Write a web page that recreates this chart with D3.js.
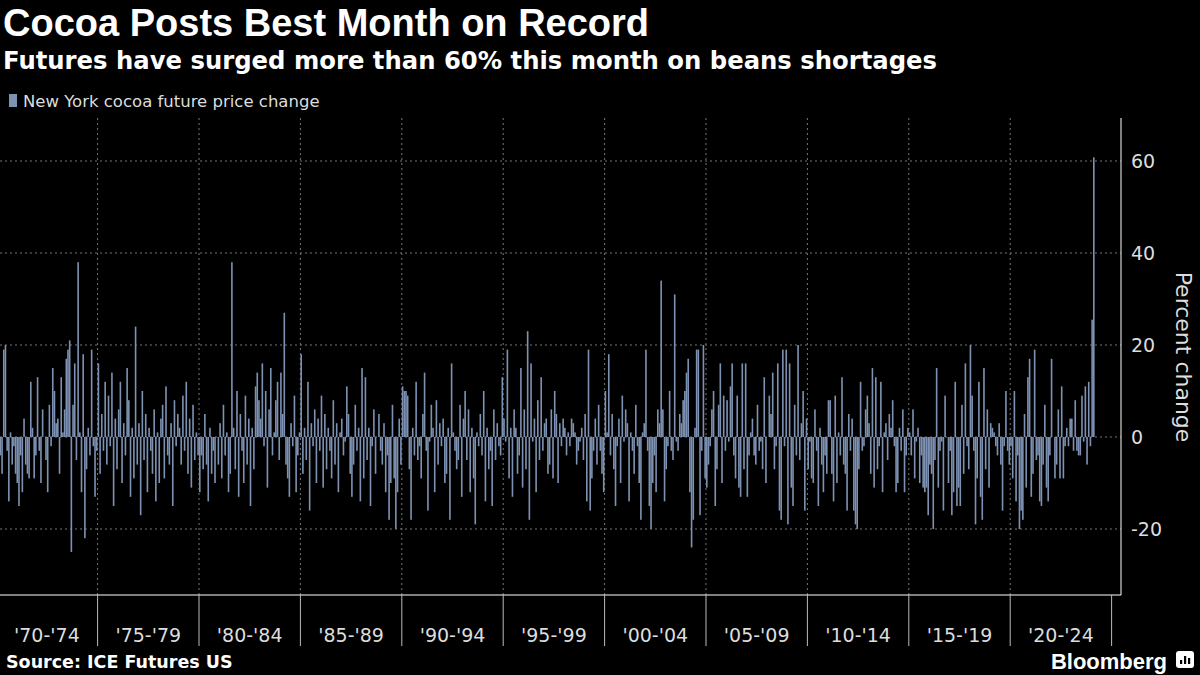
<!DOCTYPE html>
<html><head><meta charset="utf-8">
<script src="https://cdn.jsdelivr.net/npm/d3@7"></script>
<style>body{margin:0;background:#000;}svg{display:block;font-family:"DejaVu Sans",sans-serif;}</style>
</head><body><svg id="c" width="1200" height="675"></svg>
<script>
const startYear = 1970;
const periodLabels = ["'70-'74","'75-'79","'80-'84","'85-'89","'90-'94","'95-'99","'00-'04","'05-'09","'10-'14","'15-'19","'20-'24"];
const yTicks = [-20,0,20,40,60];
const changes = [
-6,-11,-4,-8,19,20,-3,-14,1,-6,-2,-8,
-10,-15,-4,-12,4,-6,-8,-9,12,2,-9,-4,
13,-3,-10,6,0,-5,-12,7,-2,15,10,3,
4,-8,13,1,6,17,19,21,-25,7,16,-5,
38,1,-12,18,-22,-7,2,-4,19,-2,-13,-3,
16,-8,5,-3,12,-6,9,-2,14,-15,4,-7,
6,12,-10,3,-4,15,8,-13,2,-9,24,-6,
3,-17,10,-5,5,-12,2,-3,-8,6,-14,1,
-10,4,7,-9,11,-4,-6,3,-15,8,-2,5,
2,-6,9,-3,12,-8,4,-11,7,-5,1,-4,
-12,-4,-7,5,-6,-14,2,-8,-3,-10,0,-6,
3,-9,7,-4,1,-12,-8,38,2,-7,10,-13,
5,-3,-10,9,-6,4,-15,2,-7,11,14,8,
4,16,-2,10,-11,6,15,-4,1,8,12,-5,
14,5,27,-6,-9,-13,3,-2,9,-12,-4,1,
18,-8,2,-5,12,-16,3,-2,6,-10,4,-3,
9,-11,5,-7,2,-3,-9,8,-6,3,-12,1,
4,-4,-1,11,5,-8,-13,-6,7,-3,2,-14,
15,-9,13,-5,2,-15,-2,6,-8,0,5,-3,
-6,3,-12,-4,-18,-10,7,-9,-20,-12,4,-6,
11,10,10,9,-7,-18,2,-4,12,-5,-2,-9,
5,14,-3,-16,-1,7,2,-12,8,-6,3,-2,
4,-10,-8,2,-18,16,1,-3,-7,-5,7,-13,
4,10,-5,6,-12,2,-9,-19,1,-2,5,-4,
10,-14,2,-7,-3,-15,6,-5,3,-2,-4,13,
4,-1,19,-9,2,-13,6,2,-8,-4,15,-11,
6,-7,23,-18,16,-1,4,-12,8,-5,13,-3,
3,4,-8,-6,6,-9,10,5,-10,3,-2,4,
2,-4,1,-2,4,3,1,-6,-3,-1,2,-5,
5,-14,19,-16,-9,-3,4,-6,7,-3,-8,-12,
10,1,18,-4,5,-7,-15,-2,4,-10,9,-1,
6,3,-14,1,-3,-8,7,-2,-10,-18,1,3,
19,-3,-15,-20,-10,-4,-12,6,3,34,6,-14,
-7,-2,10,-3,-5,31,-1,-3,5,3,8,10,
14,17,-12,-24,-18,2,19,19,-17,-3,20,-9,
-11,-6,-2,6,10,-15,-7,7,16,-10,9,-3,
8,-1,11,16,-4,-9,9,-11,-13,16,-7,16,
-13,-4,1,4,-4,-6,7,-3,-1,-7,13,-10,
0,9,5,14,-7,-2,16,-16,-18,19,-2,19,
-19,16,-11,-15,7,-4,20,-5,3,10,-16,4,
-7,-1,-9,-10,6,-3,-15,2,-6,-12,-4,-8,
8,8,-8,-14,9,-10,1,-4,13,-6,-8,-16,
5,-3,4,-16,-19,-20,-7,12,-3,-2,6,9,
3,-8,15,-11,13,-7,-2,12,-12,1,3,-5,
5,2,8,-2,-12,-10,2,-3,6,-12,-4,2,
1,-4,6,-9,-1,2,-10,-4,-11,-12,-11,-17,
-6,-8,-20,-5,15,-11,-3,-1,-16,9,0,-10,
-3,-17,-12,12,-15,-11,-15,7,-8,16,-2,-7,
20,9,-3,-19,-9,12,-13,-18,15,-7,6,-11,
3,2,1,-2,-4,3,-6,-16,-2,10,-3,-6,
-2,-9,10,-14,-4,-20,-16,-18,5,-11,13,17,
-13,-8,19,-5,-4,-14,-15,-6,7,-11,-14,-4,
17,0,-9,-6,6,-9,11,-9,-2,2,-2,4,
4,-3,8,-3,-4,-4,9,-1,11,-6,12,-2,
25.5,60.8];

const svg = d3.select("#c");
const plotTop = 118, plotBottom = 595, plotRight = 1121;
const x = d3.scaleLinear().domain([0, 660]).range([-3.8, 1111.6]);
const y = d3.scaleLinear().domain([-35, 70]).range([598, 115]);
const color = "#7d92b3";

const g = svg.append("g");
yTicks.forEach(t => g.append("line").attr("x1",0).attr("x2",plotRight).attr("y1",y(t)).attr("y2",y(t))
  .attr("stroke","#777").attr("stroke-dasharray","2,3").attr("stroke-width",1));
periodLabels.forEach((l,i) => { if(i>0) g.append("line").attr("x1",x(i*60)).attr("x2",x(i*60)).attr("y1",plotTop).attr("y2",plotBottom)
  .attr("stroke","#777").attr("stroke-dasharray","2,3"); });

svg.append("g").selectAll("rect").data(changes).join("rect")
  .attr("x",(d,i)=>x(i)).attr("width",(x(1)-x(0))*0.95)
  .attr("y",d=>y(Math.max(0,d))).attr("height",d=>Math.abs(y(d)-y(0)))
  .attr("fill",color);

svg.append("line").attr("x1",0).attr("x2",plotRight).attr("y1",plotBottom).attr("y2",plotBottom).attr("stroke","#fff");
svg.append("line").attr("x1",plotRight).attr("x2",plotRight).attr("y1",plotTop).attr("y2",plotBottom).attr("stroke","#fff");

periodLabels.forEach((l,i)=>{
  if(i>0) svg.append("line").attr("x1",x(i*60)).attr("x2",x(i*60)).attr("y1",plotBottom).attr("y2",646).attr("stroke","#bbb");
  svg.append("text").attr("x",(x(i*60)+x((i+1)*60))/2).attr("y",642).attr("text-anchor","middle")
    .attr("fill","#ddd").attr("font-size",19).text(l);
});
svg.append("line").attr("x1",x(660)).attr("x2",x(660)).attr("y1",plotBottom).attr("y2",646).attr("stroke","#bbb");

yTicks.forEach(t=>svg.append("text").attr("x",1131).attr("y",y(t)+7).attr("fill","#ddd").attr("font-size",19).text(t));
svg.append("text").attr("transform","translate(1176,357) rotate(90)").attr("text-anchor","middle")
  .attr("fill","#ddd").attr("font-size",22).text("Percent change");

svg.append("text").attr("x",3).attr("y",36).attr("fill","#fff").attr("font-size",38).attr("font-weight","bold")
  .attr("font-family","Liberation Sans, Arial, sans-serif").text("Cocoa Posts Best Month on Record");
svg.append("text").attr("x",3).attr("y",69).attr("fill","#fff").attr("font-size",24.3).attr("font-weight","bold")
  .text("Futures have surged more than 60% this month on beans shortages");
svg.append("rect").attr("x",9).attr("y",94).attr("width",8).attr("height",13).attr("fill",color);
svg.append("text").attr("x",23).attr("y",107).attr("fill","#ddd").attr("font-size",16.5).text("New York cocoa future price change");
svg.append("text").attr("x",6).attr("y",668).attr("fill","#fff").attr("font-size",17.5).attr("font-weight","bold").text("Source: ICE Futures US");
svg.append("text").attr("x",1167).attr("y",669).attr("text-anchor","end").attr("fill","#fff").attr("font-size",22)
  .attr("font-weight","bold").attr("font-family","Liberation Sans, Arial, sans-serif").text("Bloomberg");
const ic = svg.append("g").attr("transform","translate(1176,651)");
ic.append("rect").attr("width",18).attr("height",17).attr("rx",3).attr("fill","#fff");
[[4,9],[8,5],[12,7]].forEach(([bx,by])=>ic.append("rect").attr("x",bx).attr("y",by).attr("width",2.2).attr("height",13-by).attr("fill","#000"));
</script></body></html>
